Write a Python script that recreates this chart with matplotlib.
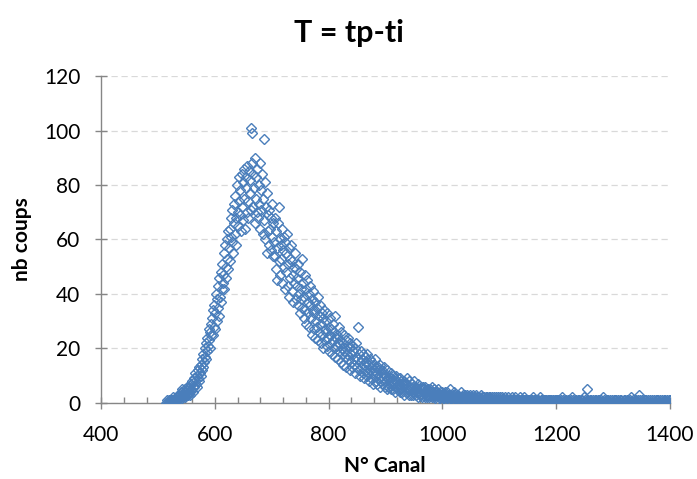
import matplotlib

matplotlib.use("Agg")
import matplotlib.pyplot as plt
import numpy as np
from matplotlib.ticker import MultipleLocator

# counts per channel, starting at channel 515 (row = 10 channels)
FIRST_CHANNEL = 515
counts = [
    0, 1, 0, 0, 1, 0, 1, 0, 1, 1,
    0, 1, 2, 1, 0, 1, 2, 1, 1, 2,
    1, 2, 3, 1, 2, 4, 2, 3, 5, 2,
    3, 4, 2, 5, 3, 4, 6, 3, 5, 4,
    6, 4, 3, 7, 5, 8, 6, 4, 9, 6,
    8, 11, 7, 10, 6, 12, 9, 13, 8, 11,
    14, 10, 16, 12, 18, 13, 15, 20, 17, 22,
    16, 24, 19, 21, 27, 23, 26, 20, 29, 25,
    31, 25, 34, 28, 36, 27, 33, 40, 30, 38,
    35, 43, 32, 46, 39, 37, 48, 42, 51, 44,
    47, 55, 42, 58, 50, 46, 60, 53, 49, 63,
    57, 64, 52, 68, 61, 59, 71, 55, 66, 73,
    62, 76, 68, 58, 80, 70, 65, 83, 74, 69,
    78, 63, 84, 72, 67, 81, 75, 86, 64, 79,
    83, 70, 87, 74, 68, 85, 77, 82, 71, 101,
    88, 99, 72, 84, 79, 66, 90, 75, 83, 70,
    86, 68, 80, 73, 88, 64, 78, 71, 84, 62,
    75, 97, 67, 81, 60, 72, 55, 77, 63, 69,
    58, 71, 64, 56, 68, 61, 73, 54, 66, 59,
    54, 68, 49, 63, 57, 45, 66, 72, 52, 60,
    47, 58, 53, 64, 44, 56, 61, 50, 59, 42,
    55, 48, 62, 43, 51, 57, 39, 53, 46, 58,
    41, 52, 47, 37, 50, 44, 55, 38, 49, 43,
    46, 36, 51, 40, 33, 48, 42, 38, 53, 35,
    44, 31, 39, 47, 34, 42, 29, 45, 37, 33,
    40, 28, 36, 43, 31, 25, 38, 34, 41, 27,
    33, 37, 24, 30, 35, 28, 39, 23, 32, 26,
    36, 22, 29, 33, 25, 31, 20, 34, 27, 23,
    30, 26, 21, 33, 24, 28, 19, 31, 25, 22,
    27, 18, 29, 23, 20, 26, 32, 17, 24, 21,
    25, 16, 22, 28, 19, 23, 15, 26, 20, 18,
    22, 14, 25, 19, 17, 23, 13, 21, 18, 24,
    16, 20, 12, 22, 18, 15, 21, 13, 19, 16,
    14, 20, 11, 17, 22, 13, 16, 28, 12, 18,
    15, 10, 19, 13, 16, 11, 18, 14, 9, 17,
    12, 15, 10, 18, 11, 14, 8, 16, 12, 13,
    9, 15, 11, 7, 14, 12, 10, 16, 8, 13,
    11, 7, 13, 9, 12, 6, 14, 10, 8, 12,
    7, 11, 9, 13, 6, 10, 8, 12, 5, 9,
    6, 10, 7, 9, 5, 11, 7, 8, 5, 10,
    7, 8, 4, 10, 6, 8, 5, 9, 6, 7,
    4, 9, 5, 8, 4, 7, 6, 8, 3, 7,
    5, 7, 4, 9, 5, 6, 3, 8, 5, 6,
    3, 7, 4, 6, 3, 8, 4, 5, 3, 6,
    4, 5, 2, 7, 4, 5, 3, 6, 3, 5,
    2, 6, 4, 5, 2, 6, 3, 4, 2, 5,
    3, 4, 2, 5, 3, 4, 2, 6, 3, 4,
    2, 5, 3, 4, 2, 4, 1, 5, 3, 3,
    2, 4, 2, 3, 1, 4, 2, 3, 2, 4,
    1, 3, 2, 4, 2, 3, 1, 3, 2, 5,
    2, 3, 1, 3, 2, 4, 1, 3, 2, 2,
    1, 3, 2, 3, 1, 2, 2, 4, 1, 2,
    2, 3, 1, 2, 1, 3, 2, 2, 1, 3,
    1, 2, 1, 3, 2, 2, 1, 2, 1, 3,
    1, 2, 2, 1, 3, 1, 2, 1, 2, 1,
    2, 1, 1, 3, 1, 2, 1, 2, 0, 2,
    1, 2, 1, 1, 2, 1, 0, 2, 1, 2,
    1, 1, 2, 0, 1, 2, 1, 1, 0, 2,
    1, 1, 0, 2, 1, 1, 2, 0, 1, 1,
    2, 1, 0, 1, 1, 2, 0, 1, 1, 0,
    1, 2, 1, 0, 1, 1, 0, 2, 1, 1,
    0, 1, 1, 2, 0, 1, 1, 0, 1, 1,
    1, 0, 2, 1, 0, 1, 1, 0, 1, 2,
    0, 1, 1, 0, 1, 1, 0, 1, 0, 1,
    1, 0, 1, 1, 2, 0, 1, 0, 1, 1,
    0, 1, 0, 1, 1, 0, 2, 0, 1, 0,
    1, 1, 0, 1, 0, 1, 0, 1, 1, 0,
    0, 1, 1, 0, 1, 0, 1, 0, 0, 1,
    1, 0, 0, 1, 0, 1, 1, 0, 0, 1,
    0, 1, 0, 0, 1, 0, 2, 0, 1, 0,
    1, 0, 0, 1, 0, 0, 1, 0, 1, 0,
    0, 1, 0, 2, 0, 1, 0, 0, 1, 0,
    1, 0, 0, 1, 0, 1, 0, 0, 1, 0,
    0, 1, 0, 0, 2, 0, 1, 0, 0, 1,
    5, 0, 1, 0, 0, 1, 0, 1, 0, 0,
    1, 0, 0, 1, 0, 0, 1, 0, 1, 0,
    0, 1, 0, 0, 1, 0, 0, 2, 0, 1,
    0, 0, 1, 0, 1, 0, 0, 1, 0, 0,
    1, 0, 0, 1, 0, 0, 1, 0, 0, 1,
    0, 1, 0, 0, 1, 0, 0, 1, 0, 0,
    1, 0, 0, 0, 1, 0, 1, 0, 0, 1,
    0, 0, 1, 0, 0, 1, 0, 2, 0, 0,
    1, 0, 0, 1, 0, 0, 1, 0, 0, 1,
    0, 3, 0, 1, 0, 0, 1, 0, 0, 1,
    0, 1, 0, 0, 1, 0, 0, 1, 0, 0,
    1, 0, 0, 1, 0, 0, 0, 1, 0, 0,
    1, 0, 1, 0, 0, 1, 0, 0, 1, 0,
    0, 1, 0, 0, 1, 0, 0, 1, 0, 0,
    1, 0, 0, 1, 0, 1,
]

x_ticks = [400, 600, 800, 1000, 1200, 1400]
y_ticks = [0, 20, 40, 60, 80, 100, 120]

FONT = ["Lato", "DejaVu Sans"]
BLUE = "#4A7EBB"
AXIS_GREY = "#868686"


def main() -> None:
    plt.rcParams["font.family"] = FONT
    channels = np.arange(FIRST_CHANNEL, FIRST_CHANNEL + len(counts))

    figure = plt.figure(figsize=(6.97, 4.79), dpi=100)
    axis = figure.add_axes([0.145, 0.159, 0.816, 0.682])

    axis.plot(
        channels,
        counts,
        linestyle="none",
        marker="D",
        markersize=4.8,
        markerfacecolor="none",
        markeredgecolor=BLUE,
        markeredgewidth=1.0,
        zorder=3,
    )

    axis.set_xlim(x_ticks[0], x_ticks[-1])
    axis.set_ylim(y_ticks[0], y_ticks[-1])
    axis.set_xticks(x_ticks)
    axis.set_yticks(y_ticks)
    axis.xaxis.set_minor_locator(MultipleLocator(40))

    axis.grid(axis="y", color="#D9D9D9", linestyle=(0, (5, 3)), linewidth=0.9, zorder=0)
    axis.set_axisbelow(True)
    for side in ("top", "right"):
        axis.spines[side].set_visible(False)
    for side in ("left", "bottom"):
        axis.spines[side].set_color(AXIS_GREY)
        axis.spines[side].set_linewidth(1.0)

    axis.tick_params(axis="both", which="major", direction="inout", length=8, width=1.0,
                     color=AXIS_GREY, labelsize=15, labelcolor="black")
    axis.tick_params(axis="x", which="major", pad=12)
    axis.tick_params(axis="y", which="major", pad=11)
    axis.tick_params(axis="x", which="minor", direction="in", length=4, width=1.0, color=AXIS_GREY)
    axis.tick_params(axis="y", which="minor", left=False)

    axis.set_xlabel("N° Canal", fontsize=15, fontweight="bold", va="center")
    axis.xaxis.set_label_coords(0.499, -0.193)
    axis.set_ylabel("nb coups", fontsize=15, fontweight="bold", va="center")
    axis.yaxis.set_label_coords(-0.139, 0.5)
    figure.text(0.5, 0.931, "T = tp-ti", ha="center", va="center", fontsize=22, fontweight="bold")

    figure.savefig("out.png", dpi=100)
    plt.close(figure)


if __name__ == "__main__":
    main()
